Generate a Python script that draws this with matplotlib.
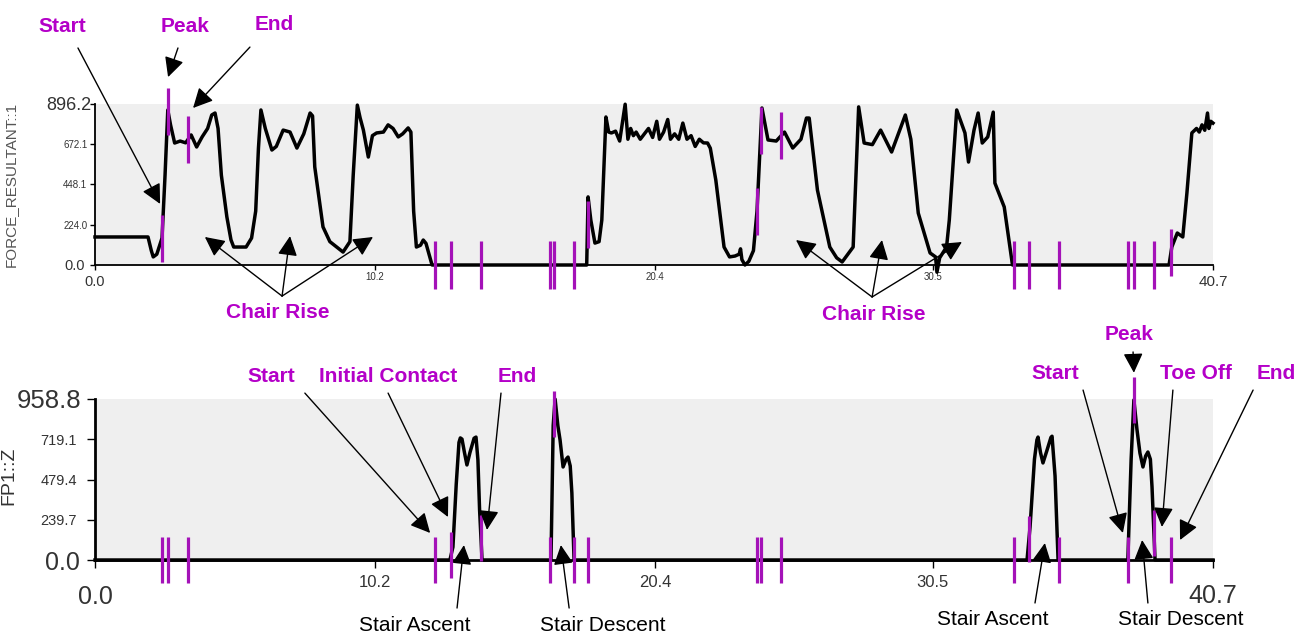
import numpy as np
import matplotlib
matplotlib.use("Agg")
import matplotlib.pyplot as plt

plt.rcParams['font.family'] = ['Liberation Sans', 'DejaVu Sans']

# ---------------- data ----------------
# Resultant force (N) vs time (s)
force_t = [0.0, 1.93, 2.05, 2.12, 2.25, 2.44, 2.55, 2.65, 2.75, 2.9, 3.1, 3.3, 3.5, 3.7, 3.9,
           4.1, 4.25, 4.37, 4.48, 4.6, 4.8, 4.95, 5.05, 5.5, 5.7, 5.85, 5.95, 6.04, 6.2, 6.44,
           6.6, 6.85, 7.1, 7.35, 7.6, 7.83, 7.92, 8.0, 8.3, 8.55, 8.8, 9.03, 9.28, 9.4, 9.55,
           9.65, 9.77, 9.95, 10.1, 10.25, 10.5, 10.67, 10.85, 11.04, 11.2, 11.4, 11.5, 11.6,
           11.7, 11.85, 11.95, 12.05, 12.27, 17.9, 17.95, 18.05, 18.2, 18.35, 18.45, 18.6, 18.7,
           18.8, 18.95, 19.1, 19.3, 19.4, 19.5, 19.6, 19.7, 19.85, 20.0, 20.15, 20.3, 20.45,
           20.55, 20.7, 20.85, 20.95, 21.1, 21.25, 21.4, 21.55, 21.7, 21.85, 22.0, 22.15, 22.3,
           22.4, 22.6, 22.9, 23.1, 23.3, 23.45, 23.5, 23.55, 23.66, 23.8, 23.97, 24.1, 24.28,
           24.5, 24.8, 25.1, 25.4, 25.7, 25.9, 26.0, 26.3, 26.75, 27.0, 27.2, 27.6, 27.8, 28.0,
           28.3, 28.6, 29.0, 29.5, 29.7, 29.97, 30.4, 30.6, 30.65, 30.75, 31.0, 31.1, 31.37,
           31.67, 31.8, 32.0, 32.15, 32.3, 32.5, 32.7, 32.76, 33.0, 33.1, 33.4, 39.1, 39.2,
           39.4, 39.6, 39.75, 39.93, 40.1, 40.2, 40.3, 40.4, 40.5, 40.55, 40.62, 40.7]
force_v = [156, 156, 80, 45, 60, 150, 500, 863, 780, 679, 690, 680, 724, 657, 713,
           760, 835, 846, 760, 500, 268, 140, 100, 100, 150, 300, 650, 863, 760, 640,
           660, 751, 740, 651, 730, 846, 830, 546, 212, 130, 100, 72, 130, 500, 890,
           820, 751, 601, 720, 735, 740, 780, 760, 713, 730, 763, 740, 300,
           100, 110, 139, 120, 0, 0, 379, 250, 122, 130, 250, 824, 740,
           735, 745, 690, 895, 700, 760, 720, 740, 700, 730, 760, 710, 800,
           700, 740, 810, 700, 730, 700, 790, 700, 720, 660, 700, 680, 679,
           650, 473, 100, 45, 50, 60, 90, 30, 0, 20, 80, 300, 874,
           696, 690, 740, 651, 700, 818, 818, 417, 100, 40, 17, 100, 880, 679,
           670, 751, 629, 835, 700, 289, 67, 45, -40, 40, 100, 250, 863,
           735, 573, 751, 846, 679, 713, 851, 456, 362, 323, 0, 0, 100,
           178, 156, 400, 735, 760, 740, 780, 750, 846, 760, 800, 790]

# Force plate 1 vertical force (N) vs time (s)
fp1_t = [0.0, 12.92, 13.03, 13.15, 13.25, 13.3, 13.36, 13.45, 13.54, 13.65, 13.8, 13.87, 13.94,
         14.0, 14.09, 16.6, 16.68, 16.75, 16.85, 16.93, 17.04, 17.15, 17.22, 17.3, 17.36,
         17.44, 33.93, 34.04, 34.2, 34.29, 34.33, 34.42, 34.51, 34.65, 34.8, 34.84, 34.95,
         35.06, 37.6, 37.72, 37.82, 37.93, 38.04, 38.15, 38.25, 38.33, 38.42, 38.48, 38.59,
         40.7]
fp1_v = [0, 0, 77, 450, 700, 727, 720, 640, 566, 640, 725, 732, 596,
         300, 0, 0, 800, 958, 800, 715, 554, 600, 613, 560, 399,
         0, 0, 197, 600, 715, 732, 640, 578, 650, 730, 737, 500,
         0, 0, 600, 953, 780, 637, 554, 620, 643, 600, 435, 0,
         0]

# Event times (s)
chair_events = [2.44, 2.66, 3.39, 24.10, 24.24, 24.97]
stair_events = [12.38, 12.96, 14.05, 16.56, 16.71, 17.44, 17.93,
                33.45, 34.00, 35.09, 37.60, 37.82, 38.55, 39.17]

force_max = 896.2
fp1_max = 958.8
x_ticks = [0.0, 10.2, 20.4, 30.5, 40.7]
force_ticks = [0.0, 224.0, 448.1, 672.1, 896.2]
fp1_ticks = [0.0, 239.7, 479.4, 719.1, 958.8]

# ---------------- styling ----------------
MAGENTA = '#B400C8'
MARK = '#A412B8'
BG = '#EFEFEF'
TXT = '#333333'

W, H = 1298, 635
fig = plt.figure(figsize=(W / 100, H / 100), dpi=100)


def add_axes_px(x0, y0, x1, y1):
    return fig.add_axes([x0 / W, 1 - y1 / H, (x1 - x0) / W, (y1 - y0) / H])


ax1 = add_axes_px(95, 104, 1213, 265)
ax2 = add_axes_px(95, 399, 1213, 560)


def style_axes(ax, ymax, yticks, spine_lw, tick_len):
    ax.set_facecolor(BG)
    ax.set_xlim(0, 40.7)
    ax.set_ylim(0, ymax)
    for s in ('top', 'right'):
        ax.spines[s].set_visible(False)
    ax.spines['left'].set_linewidth(spine_lw)
    ax.spines['bottom'].set_linewidth(spine_lw)
    ax.set_xticks(x_ticks)
    ax.set_xticklabels([f"{v:.1f}" for v in x_ticks])
    ax.set_yticks(yticks)
    ax.set_yticklabels([f"{v:.1f}" for v in yticks])
    ax.tick_params(axis='both', length=tick_len, width=1, colors='black',
                   labelcolor=TXT, direction='out')


def draw_events(ax, t, v, events, half):
    centers = np.interp(events, t, v)
    ax.vlines(events, centers - half, centers + half, colors=MARK,
              linewidth=2.3, zorder=4, clip_on=False)


# ---------------- top panel ----------------
style_axes(ax1, force_max, force_ticks, 1.3, 3.5)
ax1.plot(force_t, force_v, color='black', lw=2.5, zorder=3, clip_on=False,
         solid_joinstyle='round')
draw_events(ax1, force_t, force_v, chair_events + stair_events, 0.146 * force_max)

for lab, size in zip(ax1.get_yticklabels(), [10.5, 7, 7, 7, 13]):
    lab.set_fontsize(size)
for tk, pad in zip(ax1.yaxis.get_major_ticks(), [4, 2, 2, 2, -1]):
    tk.set_pad(pad)
for lab, size in zip(ax1.get_xticklabels(), [10.5, 7, 7, 7, 11]):
    lab.set_fontsize(size)
for tk, pad in zip(ax1.xaxis.get_major_ticks(), [4, 1.5, 1.5, 1.5, 4]):
    tk.set_pad(pad)
ax1.set_ylabel("FORCE_RESULTANT::1", fontsize=11, color='#555555')
ax1.yaxis.set_label_coords(-0.069, 0.5)

# ---------------- bottom panel ----------------
style_axes(ax2, fp1_max, fp1_ticks, 2.0, 6)
ax2.plot(fp1_t, fp1_v, color='black', lw=2.5, zorder=3, clip_on=False,
         solid_joinstyle='round')
draw_events(ax2, fp1_t, fp1_v, chair_events + stair_events, 0.143 * fp1_max)

for lab, size in zip(ax2.get_yticklabels(), [18, 10.5, 10.5, 10.5, 18.5]):
    lab.set_fontsize(size)
for tk, pad in zip(ax2.yaxis.get_major_ticks(), [5, 7, 7, 7, 4]):
    tk.set_pad(pad)
for lab, size in zip(ax2.get_xticklabels(), [18, 12, 12, 12, 18]):
    lab.set_fontsize(size)
for tk, pad in zip(ax2.xaxis.get_major_ticks(), [12, 5, 5, 5, 11]):
    tk.set_pad(pad)
ax2.set_ylabel("FP1::Z", fontsize=14, color=TXT)
ax2.yaxis.set_label_coords(-0.069, 0.52)

# ---------------- annotations ----------------
ARROW = dict(arrowstyle='-|>,head_length=0.6,head_width=0.3', color='black',
             lw=1.0, mutation_scale=20, shrinkA=0, shrinkB=0)


def label(ax, text, pos, arrows, bold=True):
    ax.text(pos[0], pos[1], text, ha='center', va='center', fontsize=15,
            fontweight='bold' if bold else 'normal',
            color=MAGENTA if bold else 'black', zorder=6, clip_on=False)
    for tail, tip in arrows:
        ax.annotate('', xy=tip, xytext=tail, arrowprops=ARROW,
                    annotation_clip=False, zorder=6)


label(ax1, "Start", (-1.20, 1325), [((-0.62, 1208), (2.37, 340))])
label(ax1, "Peak", (3.28, 1330), [((3.02, 1208), (2.66, 1046))])
label(ax1, "End", (6.52, 1341), [((5.64, 1213), (3.57, 874))])
label(ax1, "Chair Rise", (6.66, -267),
      [((6.81, -173), (4.0, 156)), ((6.81, -173), (7.10, 161)),
       ((6.81, -173), (10.12, 156))])
label(ax1, "Chair Rise", (28.36, -278),
      [((28.29, -178), (25.52, 139)), ((28.29, -178), (28.65, 139)),
       ((28.29, -178), (31.56, 128))])

label(ax2, "Start", (6.41, 1090), [((7.64, 994), (12.2, 161))])
label(ax2, "Initial Contact", (10.67, 1090), [((10.67, 994), (12.85, 256))])
label(ax2, "End", (15.36, 1090), [((14.78, 994), (14.27, 179))])
label(ax2, "Stair Ascent", (11.65, -393), [((13.18, -286), (13.43, 89))], bold=False)
label(ax2, "Stair Descent", (18.49, -393), [((17.26, -286), (16.96, 89))], bold=False)
label(ax2, "Peak", (37.64, 1340), [((37.79, 1239), (37.82, 1115))])
label(ax2, "Start", (34.95, 1108), [((35.97, 1012), (37.42, 161))])
label(ax2, "Toe Off", (40.08, 1108), [((39.24, 1012), (38.84, 197))])
label(ax2, "End", (43.0, 1108), [((42.16, 1012), (39.5, 119))])
label(ax2, "Stair Ascent", (32.69, -357), [((34.22, -256), (34.58, 101))], bold=False)
label(ax2, "Stair Descent", (39.54, -357), [((38.33, -256), (38.12, 119))], bold=False)

fig.savefig("out.png", dpi=100, facecolor='white')
